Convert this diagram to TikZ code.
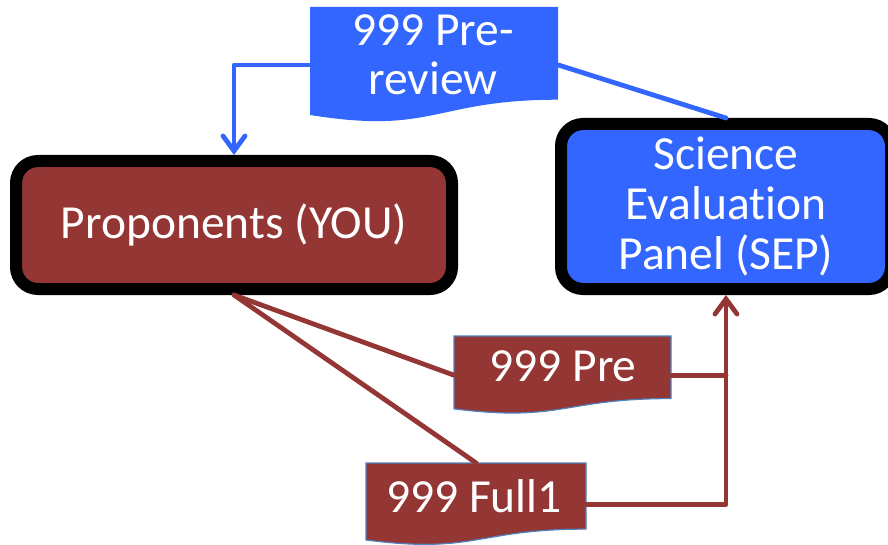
\documentclass[tikz,border=0pt]{standalone}
\usepackage{fontspec}
\setmainfont{Carlito}[Ligatures=NoCommon]
\usetikzlibrary{arrows.meta}
\definecolor{docblue}{HTML}{3366FF}
\definecolor{docred}{HTML}{943634}
\definecolor{edgeblue}{HTML}{4F81BD}

% Flowchart "document" outline: #1 style, #2 left, #3 top, #4 right, #5 height
\newcommand\docoutline[5]{%
  \pgfmathsetmacro\docR{#3+0.802*#5}%
  \pgfmathsetmacro\docC{#3+1.1075*#5}%
  \pgfmathsetmacro\docL{#3+0.934*#5}%
  \pgfmathsetmacro\docM{(#2+#4)/2}%
  \path[#1] (#2,#3) -- (#4,#3) -- (#4,\docR)
    .. controls (\docM,\docR) and (\docM,\docC) .. (#2,\docL) -- cycle;
}

\begin{document}
\begin{tikzpicture}[x=1pt,y=-1pt,
  panel/.style={draw=black, line width=12pt, rounded corners=22pt,
    inner sep=0pt, text=white, align=center,
    font=\fontsize{47.5}{50}\selectfont},
  docholder/.style={inner sep=0pt, anchor=north west},
  doctext/.style={text=white, align=center, inner sep=0pt,
    font=\fontsize{47.5}{49}\selectfont},
  blueflow/.style={docblue, line width=4.8pt, line cap=round, line join=round},
  redflow/.style={docred, line width=4.8pt, line cap=round, line join=round},
  flowtip/.style={-{Straight Barb[length=15pt,width=22pt,line cap=round]}}
]
\useasboundingbox (0,0) rectangle (888,545);

% panels
\node[panel, fill=docred, minimum width=436pt, minimum height=128pt]
  (prop) at (234,225) {Proponents (YOU)};
\node[panel, fill=docblue, minimum width=330pt, minimum height=165pt]
  (sep) at (726,206.5) {Science\\Evaluation\\Panel (SEP)};

% documents
\docoutline{fill=docblue}{310}{7}{558}{115.6}
\node[docholder, minimum width=248pt, minimum height=115.6pt] (prerev) at (310,7) {};
\node[doctext] (prerevtext) at (433,55) {999 Pre-\\review};

\docoutline{fill=docred, draw=edgeblue, line width=1.2pt}{454}{336}{671}{78}
\node[docholder, minimum width=217pt, minimum height=78pt] (pre) at (454,336) {};
\node[doctext] (pretext) at (563,366) {999 Pre};

\docoutline{fill=docred, draw=edgeblue, line width=1.2pt}{366}{463}{586}{82.4}
\node[docholder, minimum width=220pt, minimum height=82.4pt] (full) at (366,463) {};
\node[doctext] (fulltext) at (474,496) {999 Full1};

% connectors
\draw[blueflow, flowtip] (prerev.west) -| (prop.north);
\draw[blueflow] (prerev.east) -- (sep.north);
\draw[redflow] (prop.south) -- (pre.west);
\draw[redflow] (prop.south) -- (full.north);
\coordinate (join) at (sep.south |- pre.east);
\draw[redflow] (pre.east) -- (join);
\draw[redflow, flowtip] (full.east) -| (sep.south);
\end{tikzpicture}
\end{document}
